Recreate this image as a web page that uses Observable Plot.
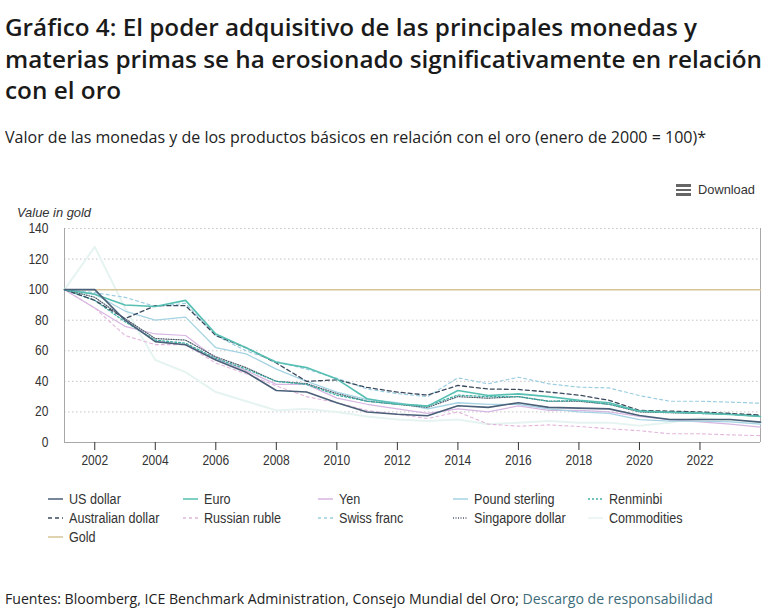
<!DOCTYPE html>
<html><head><meta charset="utf-8">
<script src="https://cdn.jsdelivr.net/npm/d3@7"></script>
<script src="https://cdn.jsdelivr.net/npm/@observablehq/plot@0.6"></script>
<style>
html,body{margin:0;padding:0;background:#fff;}
body{width:769px;height:610px;position:relative;overflow:hidden;font-family:"Open Sans",sans-serif;color:#1a1a1a;}
.abs{position:absolute;white-space:nowrap;}
.fit{display:inline-block;transform-origin:0 0;}
.t{font-weight:600;font-size:23px;line-height:30px;height:30px;color:#1a1a1a;}
#sub{font-size:16.5px;line-height:22px;color:#222;}
#foot{font-size:15px;line-height:20px;color:#222;}
#foot .lnk{color:#3d6c7a;}
#vig{font-family:"Liberation Sans",Arial,sans-serif;font-style:italic;font-size:13px;line-height:15px;color:#333;}
#dl{font-family:"Liberation Sans",Arial,sans-serif;font-size:13px;line-height:15px;color:#333;}
.bar{position:absolute;left:676px;width:15px;height:2.5px;background:#666;}
.leg{position:absolute;font-family:"Liberation Sans",Arial,sans-serif;font-size:14px;line-height:16px;color:#333;}
.leg svg{position:absolute;left:0;top:6px;opacity:0.75;}
.leg span{position:absolute;left:21px;top:0;display:inline-block;transform-origin:0 0;transform:scaleX(0.9);white-space:nowrap;}
#chart{position:absolute;left:0;top:200px;}
</style></head>
<body>
<div class="abs t" style="left:5px;top:12px"><span class="fit" data-w="692">Gráfico 4: El poder adquisitivo de las principales monedas y</span></div>
<div class="abs t" style="left:5px;top:43.5px"><span class="fit" data-w="757">materias primas se ha erosionado significativamente en relación</span></div>
<div class="abs t" style="left:5px;top:75px"><span class="fit" data-w="116">con el oro</span></div>
<div class="abs" id="sub" style="left:5px;top:126px"><span class="fit" data-w="701">Valor de las monedas y de los productos básicos en relación con el oro (enero de 2000 = 100)*</span></div>
<div class="bar" style="top:184px"></div><div class="bar" style="top:188.5px"></div><div class="bar" style="top:193px"></div>
<div class="abs" id="dl" style="left:698px;top:182px"><span class="fit" data-w="57">Download</span></div>
<div class="abs" id="vig" style="left:17px;top:205px"><span class="fit" data-w="74">Value in gold</span></div>
<div id="chart"></div>
<div id="legend"></div>
<div class="abs" id="foot" style="left:5px;top:588px"><span class="fit" data-w="708">Fuentes: Bloomberg, ICE Benchmark Administration, Consejo Mundial del Oro; <span class="lnk">Descargo de responsabilidad</span></span></div>
<script>
const years = [2001,2002,2003,2004,2005,2006,2007,2008,2009,2010,2011,2012,2013,2014,2015,2016,2017,2018,2019,2020,2021,2022,2023,2024];
const usDollar = [100,100,80,66,64,54,46,34,33,26,20,18.5,17.5,24,23,26,23,22.5,22,17.7,15,15,15,13.3];
const euro = [100,97,90,89,93,71,62,52.5,49,41.5,28.6,25.3,23.8,34,30.7,31.8,30,27.6,26,20.5,19.8,19.2,18.3,17];
const yen = [100,88,76,71,70,55,47,38,38,29,25,22,19,22,20,24,21,21,20,17,15,13.5,12,10];
const poundSterling = [100,97,86,80,82,62,58,48,40,33,28,26,22,26,25,25,22,20,19,15,14,14,13.5,12];
const renminbi = [100,93,79,67,65,55,48,40,38,31,27,25,24,31,30,30,27,27.5,25,20.5,20,19.5,18.5,17.5];
const australianDollar = [100,93,81,89.5,89.5,70,62,52,40,41,36,33,31,37.3,35,34.7,33,31,27.6,21,20.5,20,19,18];
const russianRuble = [100,88,70,64,64,52,45,37,30,26,21,18.5,15.7,20,12,10.7,11.5,10.5,9,7.7,5.7,5.7,5,4.5];
const swissFranc = [100,98,95,89,91,70,60,53,48,42,35,32,30,42.3,38.4,42.7,38.4,36.2,35.7,30.7,27,27,26.4,25.7];
const singaporeDollar = [100,95,81,68,67,56,49,40,38.5,32,27,25,23,30,29,30,27,27,25,20,19.5,19,18.5,17];
const commodities = [100,128,88,54,46,33,27,21,22,20,17,15,14,15,12,13,14,13,13,11,13,16,14,13];
const gold = [100,100,100,100,100,100,100,100,100,100,100,100,100,100,100,100,100,100,100,100,100,100,100,100];
const xTicks = [2002,2004,2006,2008,2010,2012,2014,2016,2018,2020,2022];
const yTicks = [0,20,40,60,80,100,120,140];
const gridTicks = [20,40,60,80,100,120,140];

const series = [
  {name:"Commodities", values:commodities, color:"#e6f4f1", dash:null, w:2},
  {name:"Gold", values:gold, color:"#d6c595", dash:null, w:1.5},
  {name:"Russian ruble", values:russianRuble, color:"#e2b6dc", dash:"3,3", w:1.1},
  {name:"Yen", values:yen, color:"#d8b6e2", dash:null, w:1.2},
  {name:"Pound sterling", values:poundSterling, color:"#a5d3e3", dash:null, w:1.3},
  {name:"Swiss franc", values:swissFranc, color:"#9ccde0", dash:"3,3", w:1.2},
  {name:"Singapore dollar", values:singaporeDollar, color:"#4c5a6b", dash:"1,1.5", w:1.2},
  {name:"Renminbi", values:renminbi, color:"#3fb0a5", dash:"2,2", w:1.3},
  {name:"Australian dollar", values:australianDollar, color:"#3b4a5e", dash:"4,3", w:1.3},
  {name:"Euro", values:euro, color:"#56bfb2", dash:null, w:1.6},
  {name:"US dollar", values:usDollar, color:"#4a5f78", dash:null, w:1.6}
];
const legendOrder = ["US dollar","Euro","Yen","Pound sterling","Renminbi","Australian dollar","Russian ruble","Swiss franc","Singapore dollar","Commodities","Gold"];

const marks = [
  Plot.ruleY(gridTicks, {stroke:"#c4c4c4", strokeDasharray:"1.5,2.5"}),
  Plot.ruleY([0], {stroke:"#a8a8a8"}),
  Plot.ruleX([2001, 2024], {stroke:"#a8a8a8"})
];
for (const s of series) {
  const rows = years.map((y, i) => ({year: y, value: s.values[i]}));
  const opts = {x:"year", y:"value", stroke:s.color, strokeWidth:s.w};
  if (s.dash) opts.strokeDasharray = s.dash;
  marks.push(Plot.line(rows, opts));
}
marks.push(Plot.axisY({ticks: yTicks, tickSize: 0, tickPadding: 16, label: null}));
marks.push(Plot.axisX({ticks: xTicks, tickSize: 8, tickPadding: 5, tickFormat: d => String(d), label: null, stroke:"#333"}));

const chart = Plot.plot({
  width: 769, height: 275,
  marginLeft: 64, marginRight: 9, marginTop: 28, marginBottom: 33,
  x: {domain: [2001, 2024]},
  y: {domain: [0, 140]},
  style: {fontFamily: "'Liberation Sans', Arial, sans-serif", fontSize: "14px", color: "#333", background: "transparent"},
  marks
});
document.getElementById("chart").appendChild(chart);
chart.querySelectorAll("text").forEach(t => {
  const tr = t.getAttribute("transform");
  if (tr) t.setAttribute("transform", tr + " scale(0.86,1)");
});

// legend
const legend = document.getElementById("legend");
const colX = [48, 183, 318, 453, 588];
const rowY = [491, 510, 529];
legendOrder.forEach((name, i) => {
  const s = series.find(d => d.name === name);
  const col = i % 5, row = Math.floor(i / 5);
  const el = document.createElement("div");
  el.className = "leg";
  el.style.left = colX[col] + "px";
  el.style.top = rowY[row] + "px";
  el.innerHTML = `<svg width="16" height="4"><line x1="0" y1="2" x2="15" y2="2" stroke="${s.color}" stroke-width="2" ${s.dash ? `stroke-dasharray="${s.dash}"` : ""}/></svg><span>${name}</span>`;
  legend.appendChild(el);
});

// fit text widths
document.querySelectorAll(".fit").forEach(el => {
  const w = el.getBoundingClientRect().width;
  const target = +el.dataset.w;
  if (w > 0) el.style.transform = `scaleX(${target / w})`;
});
</script>
</body></html>
